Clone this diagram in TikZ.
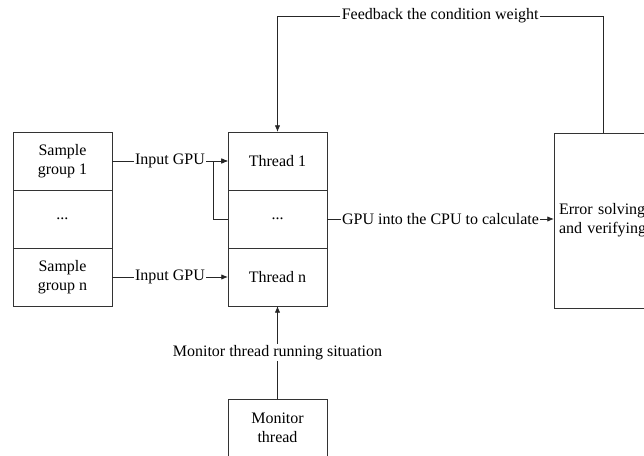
\documentclass[tikz,border=0pt]{standalone}
\usepackage{fontspec}
\setmainfont{Liberation Serif}
\usetikzlibrary{positioning,arrows.meta}

\begin{document}
\begin{tikzpicture}[x=0.75pt,y=-0.75pt,>={Latex[length=5pt,width=4pt]},
    every node/.style={font=\fontsize{12pt}{14.5pt}\selectfont},
    cell/.style={draw=black!80,line width=0.6pt,outer sep=0pt,align=center,
        minimum width=74.25pt,minimum height=43.5pt},
    lbl/.style={fill=white,inner sep=1pt},
    link/.style={->,draw=black!85,line width=0.6pt}]

    \useasboundingbox (0,0) rectangle (644,456);

    % Sample groups (left column)
    \node[cell] (s1) at (62.5,161) {Sample\\group 1};
    \node[cell,below=0pt of s1] (sdots) {...};
    \node[cell,below=0pt of sdots] (sn) {Sample\\group n};

    % GPU threads (middle column)
    \node[cell] (t1) at (277.5,161) {Thread 1};
    \node[cell,below=0pt of t1] (tdots) {...};
    \node[cell,below=0pt of tdots] (tn) {Thread n};

    % Error box on the right, cut by the page edge
    \node[draw=black!80,line width=0.6pt,outer sep=0pt,anchor=north west,
        minimum height=131.25pt,text width=105pt,inner sep=3.75pt,align=left]
        (err) at (554,133) {Error solving\\and verifying};

    % Monitor thread below
    \node[cell,below=69.75pt of tn] (mon) {Monitor\\thread};

    % Inputs
    \draw[link] (s1.east) -- node[lbl] {Input GPU} (t1.west);
    \draw[link] (sn.east) -- node[lbl] {Input GPU} (tn.west);

    % Loop back to thread 1
    \draw[link] (tdots.west) -- ++(-15,0) |- (t1.west);

    % GPU -> CPU
    \draw[link] (tdots.east) -- node[lbl] {GPU into the CPU to calculate} (tdots.east -| err.west);

    % Feedback
    \draw[link] ([xshift=36.75pt]err.north west) -- ++(0,-117)
        -| node[lbl,pos=0.25] {Feedback the condition weight} (t1.north);

    % Monitoring
    \draw[link] (mon.north) -- node[lbl] {Monitor thread running situation} (tn.south);

\end{tikzpicture}
\end{document}
